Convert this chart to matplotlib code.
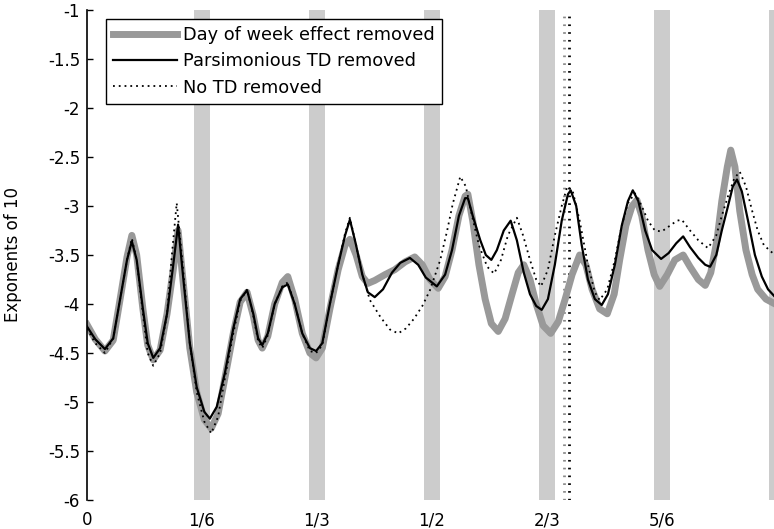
import matplotlib
matplotlib.use('Agg')
import matplotlib.pyplot as plt

plt.rcParams['font.family'] = 'DejaVu Sans'
plt.rcParams['axes.unicode_minus'] = False

# log10 spectra; frequency runs 0..1 with seasonal harmonics at k/6
freq_dow = [0.000, 0.012, 0.026, 0.038, 0.048, 0.058, 0.065, 0.072, 0.081, 0.088,
            0.096, 0.106, 0.116, 0.125, 0.132, 0.139, 0.149, 0.159, 0.170, 0.180,
            0.190, 0.200, 0.212, 0.222, 0.232, 0.241, 0.248, 0.254, 0.262, 0.272,
            0.283, 0.291, 0.301, 0.312, 0.323, 0.332, 0.341, 0.352, 0.364, 0.374,
            0.381, 0.390, 0.399, 0.407, 0.417, 0.432, 0.446, 0.461, 0.475, 0.486,
            0.497, 0.509, 0.519, 0.529, 0.539, 0.548, 0.552, 0.559, 0.568, 0.577,
            0.586, 0.596, 0.606, 0.616, 0.625, 0.633, 0.642, 0.651, 0.661, 0.672,
            0.683, 0.693, 0.703, 0.714, 0.723, 0.732, 0.743, 0.754, 0.764, 0.772,
            0.781, 0.790, 0.797, 0.804, 0.813, 0.822, 0.830, 0.841, 0.852, 0.864,
            0.874, 0.886, 0.896, 0.904, 0.913, 0.920, 0.928, 0.933, 0.939, 0.946,
            0.955, 0.964, 0.972, 0.984, 1.000]
spec_dow = [-4.21, -4.36, -4.48, -4.37, -3.95, -3.52, -3.30, -3.50, -4.05, -4.42,
            -4.57, -4.47, -4.10, -3.65, -3.25, -3.75, -4.45, -4.90, -5.18, -5.27,
            -5.12, -4.75, -4.30, -3.98, -3.88, -4.12, -4.37, -4.45, -4.33, -4.00,
            -3.78, -3.72, -3.95, -4.30, -4.50, -4.55, -4.45, -4.05, -3.65, -3.40,
            -3.34, -3.50, -3.72, -3.79, -3.76, -3.70, -3.65, -3.57, -3.52, -3.60,
            -3.75, -3.84, -3.72, -3.45, -3.10, -2.90, -2.88, -3.15, -3.60, -3.95,
            -4.20, -4.28, -4.15, -3.90, -3.68, -3.60, -3.75, -4.00, -4.22, -4.30,
            -4.18, -3.95, -3.70, -3.50, -3.60, -3.85, -4.05, -4.10, -3.90, -3.55,
            -3.20, -3.00, -2.94, -3.10, -3.45, -3.70, -3.82, -3.70, -3.55, -3.50,
            -3.62, -3.75, -3.81, -3.68, -3.35, -2.95, -2.60, -2.43, -2.60, -3.05,
            -3.45, -3.70, -3.85, -3.95, -4.01]

freq_pars = [0.000, 0.012, 0.026, 0.038, 0.048, 0.058, 0.065, 0.072, 0.081, 0.088,
             0.096, 0.106, 0.116, 0.125, 0.132, 0.139, 0.149, 0.159, 0.170, 0.178,
             0.188, 0.200, 0.212, 0.222, 0.232, 0.241, 0.248, 0.254, 0.262, 0.272,
             0.283, 0.291, 0.301, 0.312, 0.323, 0.332, 0.341, 0.352, 0.364, 0.374,
             0.381, 0.390, 0.399, 0.407, 0.417, 0.429, 0.442, 0.454, 0.468, 0.480,
             0.491, 0.507, 0.519, 0.529, 0.539, 0.548, 0.552, 0.559, 0.570, 0.578,
             0.586, 0.594, 0.604, 0.614, 0.623, 0.633, 0.642, 0.651, 0.659, 0.668,
             0.678, 0.688, 0.697, 0.701, 0.709, 0.717, 0.726, 0.736, 0.746, 0.755,
             0.765, 0.775, 0.784, 0.791, 0.799, 0.809, 0.819, 0.832, 0.843, 0.854,
             0.864, 0.874, 0.886, 0.896, 0.903, 0.912, 0.920, 0.929, 0.936, 0.942,
             0.949, 0.958, 0.968, 0.978, 0.987, 1.000]
spec_pars = [-4.23, -4.36, -4.46, -4.35, -3.95, -3.55, -3.36, -3.55, -4.05, -4.40,
             -4.55, -4.45, -4.10, -3.60, -3.19, -3.70, -4.40, -4.85, -5.10, -5.17,
             -5.05, -4.70, -4.25, -3.95, -3.86, -4.10, -4.35, -4.42, -4.30, -4.00,
             -3.83, -3.80, -4.00, -4.30, -4.45, -4.48, -4.40, -4.00, -3.60, -3.30,
             -3.14, -3.40, -3.70, -3.88, -3.93, -3.85, -3.68, -3.58, -3.53, -3.60,
             -3.73, -3.82, -3.70, -3.45, -3.10, -2.92, -2.92, -3.10, -3.35, -3.50,
             -3.55, -3.45, -3.25, -3.15, -3.35, -3.68, -3.90, -4.02, -4.06, -3.95,
             -3.60, -3.15, -2.88, -2.84, -3.00, -3.40, -3.75, -3.95, -4.01, -3.90,
             -3.60, -3.20, -2.95, -2.84, -2.95, -3.25, -3.45, -3.54, -3.48, -3.38,
             -3.31, -3.42, -3.53, -3.60, -3.62, -3.50, -3.25, -3.00, -2.80, -2.73,
             -2.85, -3.15, -3.50, -3.72, -3.85, -3.95]

freq_notd = [0.000, 0.012, 0.026, 0.038, 0.048, 0.058, 0.065, 0.072, 0.081, 0.088,
             0.096, 0.106, 0.116, 0.123, 0.130, 0.138, 0.149, 0.159, 0.170, 0.180,
             0.190, 0.200, 0.212, 0.222, 0.232, 0.241, 0.248, 0.254, 0.262, 0.272,
             0.283, 0.291, 0.301, 0.312, 0.323, 0.332, 0.341, 0.352, 0.364, 0.374,
             0.381, 0.390, 0.399, 0.410, 0.425, 0.439, 0.451, 0.462, 0.474, 0.486,
             0.497, 0.512, 0.522, 0.530, 0.541, 0.549, 0.558, 0.568, 0.580, 0.590,
             0.600, 0.610, 0.623, 0.632, 0.642, 0.651, 0.658, 0.668, 0.678, 0.688,
             0.696, 0.704, 0.714, 0.726, 0.736, 0.743, 0.754, 0.765, 0.775, 0.784,
             0.794, 0.804, 0.813, 0.823, 0.833, 0.845, 0.855, 0.862, 0.874, 0.886,
             0.900, 0.912, 0.920, 0.929, 0.938, 0.946, 0.955, 0.964, 0.972, 0.981,
             1.000]
spec_notd = [-4.25, -4.40, -4.50, -4.35, -3.95, -3.55, -3.33, -3.55, -4.10, -4.50,
             -4.63, -4.50, -4.10, -3.50, -2.97, -3.55, -4.40, -4.90, -5.20, -5.32,
             -5.15, -4.75, -4.30, -3.97, -3.85, -4.12, -4.38, -4.45, -4.32, -4.00,
             -3.82, -3.78, -4.00, -4.30, -4.48, -4.50, -4.42, -4.00, -3.60, -3.28,
             -3.12, -3.40, -3.70, -3.96, -4.13, -4.26, -4.30, -4.25, -4.15, -4.02,
             -3.86, -3.55, -3.25, -2.98, -2.70, -2.80, -3.10, -3.40, -3.62, -3.69,
             -3.55, -3.30, -3.12, -3.30, -3.55, -3.75, -3.82, -3.65, -3.30, -3.00,
             -2.80, -2.85, -3.15, -3.60, -3.88, -3.96, -3.85, -3.55, -3.20, -2.97,
             -2.87, -3.00, -3.15, -3.25, -3.26, -3.20, -3.15, -3.14, -3.25, -3.35,
             -3.43, -3.30, -3.10, -2.90, -2.72, -2.65, -2.80, -3.05, -3.25, -3.40,
             -3.52]

seasonal = [1, 2, 3, 4, 5, 6]
td_freqs = [0.691, 0.699]
tick_pos = [0, 1/6, 1/3, 1/2, 2/3, 5/6, 1]
tick_lab = ['0', '1/6', '1/3', '1/2', '2/3', '5/6', '1']
ytick_pos = [-6, -5.5, -5, -4.5, -4, -3.5, -3, -2.5, -2, -1.5, -1]
ytick_lab = ['-6', '-5.5', '-5', '-4.5', '-4', '-3.5', '-3', '-2.5', '-2', '-1.5', '-1']

fig = plt.figure(figsize=(7.74, 5.29), dpi=100)
ax = fig.add_axes([87/774, 29/529, 690/774, 490/529])

# seasonal frequency bands
for k in seasonal:
    ax.axvspan(k/6 - 0.0122, k/6 + 0.0122, color='#cccccc', lw=0, zorder=0)

# trading day frequency markers
ax.axvline(td_freqs[0], color='#888888', lw=2, ls=(0, (0.6, 2.2)), zorder=1)
ax.axvline(td_freqs[1], color='black', lw=2, ls=(0, (0.6, 2.2)), zorder=1)

ax.plot(freq_dow, spec_dow, color='#999999', lw=5, label='Day of week effect removed', zorder=2)
ax.plot(freq_pars, spec_pars, color='black', lw=1.6, label='Parsimonious TD removed', zorder=3)
ax.plot(freq_notd, spec_notd, color='black', lw=1.3, ls=(0, (1, 2.2)), label='No TD removed', zorder=4)

ax.set_xlim(0, 1)
ax.set_ylim(-6, -1)
ax.set_xticks(tick_pos)
ax.set_xticklabels(tick_lab, fontsize=12)
ax.set_yticks(ytick_pos)
ax.set_yticklabels(ytick_lab, fontsize=12)
ax.tick_params(axis='x', length=0, pad=8)
ax.tick_params(axis='y', direction='in', length=4, width=1, pad=5)
for s in ['top', 'right', 'bottom']:
    ax.spines[s].set_visible(False)
ax.spines['left'].set_linewidth(1.2)

ax.set_ylabel('Exponents of 10', fontsize=12)
ax.yaxis.set_label_coords(-0.094, 0.5)

leg = ax.legend(loc='upper left', bbox_to_anchor=(0.0275, 0.982), borderaxespad=0,
                fontsize=12.8, frameon=True, fancybox=False, handlelength=3.6,
                handletextpad=0.34, labelspacing=0.47, borderpad=0.4)
leg.get_frame().set_edgecolor('black')
leg.get_frame().set_linewidth(1.0)
leg.get_frame().set_alpha(1)

fig.savefig('out.png', dpi=100)
